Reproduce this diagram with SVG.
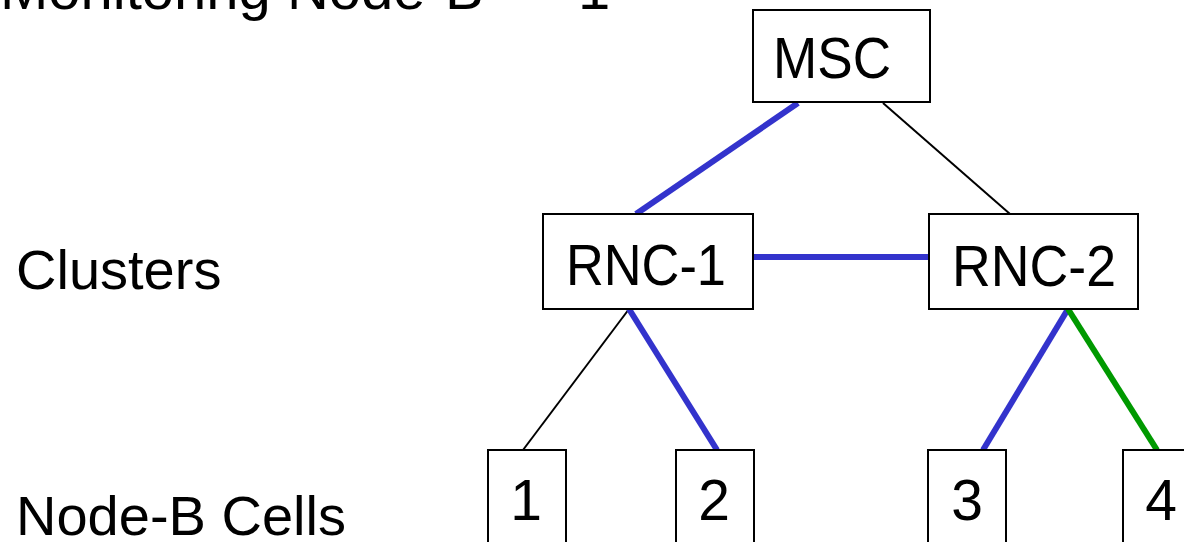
<svg xmlns="http://www.w3.org/2000/svg" width="1184" height="542" viewBox="0 0 1184 542">
  <style>
    text { font-family: "Liberation Sans", Arial, sans-serif; fill: #000; }
    .label { font-size: 56px; }
    .title { font-size: 58px; }
    .node rect { fill: #fff; stroke: #000; stroke-width: 2; }
    .node text { font-size: 57px; text-anchor: middle; }
    .thin { stroke: #000; stroke-width: 2; fill: none; }
    .blue { stroke: #3333cc; stroke-width: 6; fill: none; }
    .green { stroke: #009900; stroke-width: 6; fill: none; }
  </style>

  <!-- title, partially off the top edge -->
  <text class="title" x="0" y="9">Monitoring Node-B<tspan x="524">=</tspan><tspan x="578">1</tspan></text>

  <!-- row labels -->
  <text class="label" x="16" y="289">Clusters</text>
  <text class="label" x="16" y="535">Node-B Cells</text>

  <!-- links -->
  <g id="connectors">
    <line class="blue" x1="798" y1="103" x2="636" y2="214"/>
    <line class="thin" x1="883" y1="103" x2="1010" y2="214"/>
    <line class="blue" x1="753" y1="257" x2="929" y2="257"/>
    <line class="thin" x1="629" y1="309" x2="523" y2="450"/>
    <line class="blue" x1="629" y1="309" x2="717" y2="450"/>
    <line class="blue" x1="1068" y1="309" x2="983" y2="450"/>
    <line class="green" x1="1068" y1="309" x2="1157" y2="450"/>
  </g>

  <g id="msc" class="node">
    <rect x="753" y="10" width="177" height="92"/>
    <text x="832" y="78" textLength="118" lengthAdjust="spacingAndGlyphs">MSC</text>
  </g>
  <g id="rnc-1" class="node">
    <rect x="543" y="214" width="210" height="95"/>
    <text x="646" y="285" textLength="160" lengthAdjust="spacingAndGlyphs">RNC-1</text>
  </g>
  <g id="rnc-2" class="node">
    <rect x="929" y="214" width="209" height="95"/>
    <text x="1034" y="286" textLength="164" lengthAdjust="spacingAndGlyphs">RNC-2</text>
  </g>
  <g id="cell-1" class="node">
    <rect x="488" y="450" width="78" height="110"/>
    <text x="526" y="520">1</text>
  </g>
  <g id="cell-2" class="node">
    <rect x="676" y="450" width="78" height="110"/>
    <text x="714" y="520">2</text>
  </g>
  <g id="cell-3" class="node">
    <rect x="928" y="450" width="78" height="110"/>
    <text x="967" y="520">3</text>
  </g>
  <g id="cell-4" class="node">
    <rect x="1123" y="450" width="78" height="110"/>
    <text x="1161" y="520">4</text>
  </g>
</svg>
